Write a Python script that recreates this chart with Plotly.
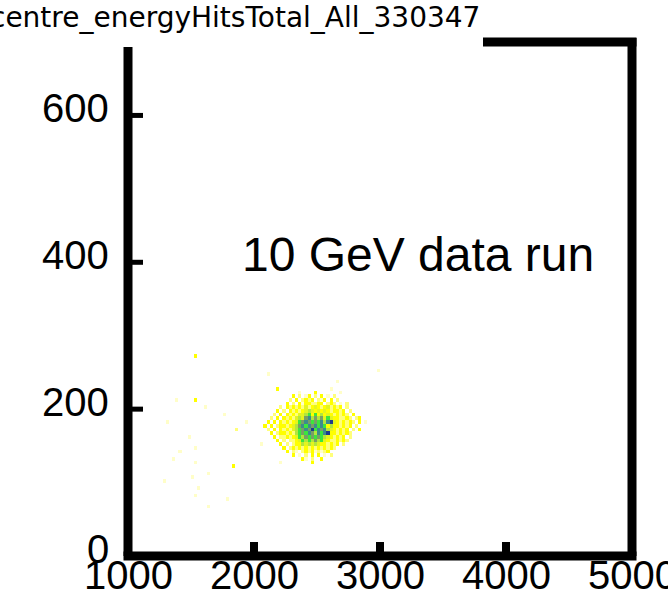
import plotly.graph_objects as go

# ---------------- data ----------------
title_text = "centre_energyHitsTotal_All_330347"
note_text = "10 GeV data run"

x_ticks = [1000, 2000, 3000, 4000, 5000]
x_tick_labels = ["1000", "2000", "3000", "4000", "5000"]
y_ticks = [0, 200, 400, 600]
y_tick_labels = ["0", "200", "400", "600"]

x_range = [1000, 5000]
y_range = [0, 700]
bin_w_x = 25
bin_w_y = 5

# dense core of the 2-D histogram (counts level 0-9)
core_x0 = 2050          # left edge of first column
core_y_top = 235        # upper edge of first row
core_rows = [
    "0000000000000000000000000000000000",
    "0000000000000000000000100000000000",
    "0000000000001000030000000100000000",
    "0000000000302013020301020000000000",
    "0000000002030232302130302000000000",
    "0000000030203133223302320102000000",
    "0000002032323242343234232302000000",
    "0000030203232345434343233230200000",
    "0000203032324456363534323232030000",
    "0002030323245478575746433223202300",
    "0030303232346787676858943232320300",
    "0303023323457868786863533232302000",
    "0020303232456787968785432323020300",
    "0003023323256768758689332323200000",
    "0000302232346576767654323230200000",
    "0000030202234656575643223232000000",
    "0000003020233545454332323020000000",
    "0000000302323232323232320000000000",
    "0000000030210232312123000000000000",
    "0000000000301020303010200000000000",
    "0000000000000310200300000000000000",
    "0000000000000000300000000000000000",
]

# isolated entries away from the core: x, y, level
out_x = [1532, 2111, 2175, 2659, 2984, 1397, 1532, 1611, 1302, 1754, 1929, 1865,
         1476, 1540, 1413, 1373, 1532, 1833, 1635, 1516, 1278, 1556, 1540, 1794,
         1635, 2206, 2603, 2897, 2786, 2063]
out_y = [272, 246, 228, 235, 250, 211, 211, 203, 184, 192, 181, 174,
         161, 148, 140, 132, 127, 122, 113, 108, 101, 90, 83, 75,
         65, 127, 137, 181, 181, 154]
out_z = [3, 1, 3, 1, 1, 1, 3, 1, 1, 1, 1, 2,
         1, 1, 1, 1, 1, 3, 1, 1, 1, 1, 1, 1,
         1, 1, 1, 1, 2, 1]

level_colors = ["#fffec8", "#ffff7a", "#ffff00", "#e4f41e", "#b2e63c",
                "#3ce63c", "#78a064", "#3c8c8c", "#1e3c8c"]

# ---------------- build histogram grid ----------------
nx = (x_range[1] - x_range[0]) // bin_w_x
ny = (y_range[1] - y_range[0]) // bin_w_y
z = [[None] * nx for _ in range(ny)]

for r, row in enumerate(core_rows):
    row = row[:34].ljust(34, "0")
    y_low = core_y_top - bin_w_y * (r + 1)
    j = (y_low - y_range[0]) // bin_w_y
    for c, ch in enumerate(row):
        v = int(ch)
        if v:
            i = (core_x0 + bin_w_x * c - x_range[0]) // bin_w_x
            z[j][i] = v

for xv, yv, zv in zip(out_x, out_y, out_z):
    i = int((xv - x_range[0]) // bin_w_x)
    j = int((yv - y_range[0]) // bin_w_y)
    if z[j][i] is None:
        z[j][i] = zv

xc = [x_range[0] + bin_w_x * (i + 0.5) for i in range(nx)]
yc = [y_range[0] + bin_w_y * (j + 0.5) for j in range(ny)]

n = len(level_colors)
colorscale = []
for k, col in enumerate(level_colors):
    colorscale.append([k / n, col])
    colorscale.append([(k + 1) / n, col])

fig = go.Figure()
fig.add_trace(go.Heatmap(
    x=xc, y=yc, z=z, zmin=0.5, zmax=n + 0.5,
    colorscale=colorscale, showscale=False, hoverongaps=False,
))

W, H = 668, 591
ml, mr, mt, mb = 128, 36, 42, 35
pw, ph = W - ml - mr, H - mt - mb

fig.update_layout(
    width=W, height=H,
    margin=dict(l=ml, r=mr, t=mt, b=mb, autoexpand=False),
    paper_bgcolor="white", plot_bgcolor="white",
    showlegend=False,
    font=dict(family="Liberation Sans, Arial, sans-serif", color="black"),
)
fig.update_xaxes(range=x_range, showgrid=False, zeroline=False, showline=False,
                 ticks="", showticklabels=False, automargin=False)
fig.update_yaxes(range=y_range, showgrid=False, zeroline=False, showline=False,
                 ticks="", showticklabels=False, automargin=False)

lw = 9
def px2paper_x(px):
    return (px - ml) / pw

def px2paper_y(px):
    return (H - mb - px) / ph

shapes = []
# frame
shapes.append(dict(type="line", xref="paper", yref="paper", x0=0, x1=0,
                   y0=0, y1=px2paper_y(47), line=dict(color="black", width=lw)))
shapes.append(dict(type="line", xref="paper", yref="paper", x0=-lw / 2 / pw, x1=1 + lw / 2 / pw,
                   y0=0, y1=0, line=dict(color="black", width=lw)))
shapes.append(dict(type="line", xref="paper", yref="paper", x0=1, x1=1,
                   y0=0, y1=px2paper_y(38), line=dict(color="black", width=lw)))
shapes.append(dict(type="line", xref="paper", yref="paper", x0=px2paper_x(483), x1=1 + lw / 2 / pw,
                   y0=px2paper_y(42), y1=px2paper_y(42), line=dict(color="black", width=lw)))
# tick stubs
for tv in x_ticks[1:-1]:
    xp = (tv - x_range[0]) / (x_range[1] - x_range[0])
    shapes.append(dict(type="line", xref="paper", yref="paper", x0=xp, x1=xp,
                       y0=0, y1=14 / ph, line=dict(color="black", width=8)))
for tv in y_ticks[1:]:
    yp = (tv - y_range[0]) / (y_range[1] - y_range[0])
    shapes.append(dict(type="line", xref="paper", yref="paper", x0=0, x1=15 / pw,
                       y0=yp, y1=yp, line=dict(color="black", width=5)))
fig.update_layout(shapes=shapes)

# tick labels
tick_font = dict(size=40, color="black")
for tv, tl in zip(x_ticks, x_tick_labels):
    fig.add_annotation(text=tl, x=tv, xref="x", y=px2paper_y(575), yref="paper",
                       xanchor="center", yanchor="middle", showarrow=False, font=tick_font)
for tv, tl in zip(y_ticks, y_tick_labels):
    yp = (tv - y_range[0]) / (y_range[1] - y_range[0]) + 7 / ph
    fig.add_annotation(text=tl, x=px2paper_x(111), xref="paper", y=yp, yref="paper",
                       xanchor="right", yanchor="middle", showarrow=False, font=tick_font)

fig.add_annotation(text=note_text, x=3298, y=410, xref="x", yref="y",
                   showarrow=False, font=dict(size=48, color="black"))
fig.add_annotation(text=title_text, x=px2paper_x(-12), y=px2paper_y(18),
                   xref="paper", yref="paper", xanchor="left", yanchor="middle",
                   showarrow=False,
                   font=dict(family="DejaVu Sans", size=28, color="black"))

fig.write_html("out.html")
